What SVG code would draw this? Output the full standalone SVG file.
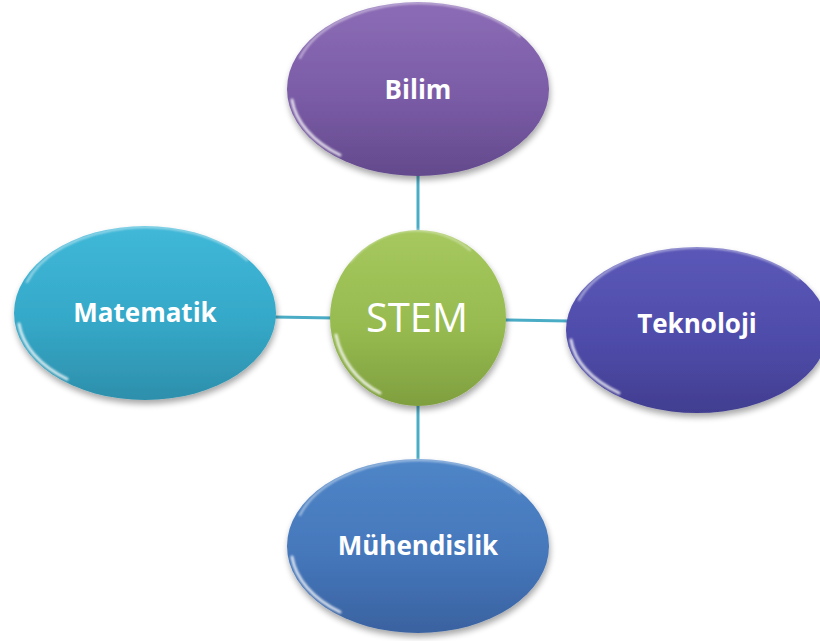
<svg xmlns="http://www.w3.org/2000/svg" width="820" height="641" viewBox="0 0 820 641">
  <style>
    .lbl { font-family: "Open Sans", "Liberation Sans", sans-serif; font-weight: 700; font-size: 26px; fill: #ffffff; text-anchor: middle; }
    .hub { font-family: "Open Sans", "Liberation Sans", sans-serif; font-weight: 400; font-size: 40px; fill: #ffffff; text-anchor: middle; }
    .conn { stroke: #4bacc6; stroke-width: 3; fill: none; }
    .rim { fill: none; stroke: #ffffff; stroke-linecap: round; }
  </style>
  <defs>
    <filter id="shadow" x="-20%" y="-20%" width="140%" height="150%">
      <feGaussianBlur in="SourceAlpha" stdDeviation="3"/>
      <feOffset dx="1" dy="4" result="b"/>
      <feComponentTransfer><feFuncA type="linear" slope="0.35"/></feComponentTransfer>
      <feMerge><feMergeNode/><feMergeNode in="SourceGraphic"/></feMerge>
    </filter>
    <filter id="soft" x="-10%" y="-10%" width="120%" height="120%">
      <feGaussianBlur stdDeviation="1.2"/>
    </filter>
    <linearGradient id="gPurple" x1="0" y1="0" x2="0" y2="1">
      <stop offset="0" stop-color="#8c6cb6"/>
      <stop offset="0.55" stop-color="#7a5ba6"/>
      <stop offset="1" stop-color="#634a8c"/>
    </linearGradient>
    <linearGradient id="gGreen" x1="0" y1="0" x2="0" y2="1">
      <stop offset="0" stop-color="#a6c85e"/>
      <stop offset="0.55" stop-color="#97bb50"/>
      <stop offset="1" stop-color="#7f9f3f"/>
    </linearGradient>
    <linearGradient id="gIndigo" x1="0" y1="0" x2="0" y2="1">
      <stop offset="0" stop-color="#5b58b8"/>
      <stop offset="0.55" stop-color="#4f4caa"/>
      <stop offset="1" stop-color="#413e90"/>
    </linearGradient>
    <linearGradient id="gCyan" x1="0" y1="0" x2="0" y2="1">
      <stop offset="0" stop-color="#40b8d8"/>
      <stop offset="0.55" stop-color="#35a8c8"/>
      <stop offset="1" stop-color="#2d8fab"/>
    </linearGradient>
    <linearGradient id="gBlue" x1="0" y1="0" x2="0" y2="1">
      <stop offset="0" stop-color="#4f86c8"/>
      <stop offset="0.55" stop-color="#4577bb"/>
      <stop offset="1" stop-color="#3a62a0"/>
    </linearGradient>
  </defs>

  <!-- connectors from the hub to each satellite -->
  <g id="connectors">
    <line class="conn" x1="418" y1="174" x2="418" y2="232"/>
    <line class="conn" x1="418" y1="405" x2="418" y2="462"/>
    <line class="conn" x1="274" y1="317" x2="334" y2="318"/>
    <line class="conn" x1="503" y1="320" x2="569" y2="321"/>
  </g>

  <g id="bilim">
    <ellipse cx="418" cy="89" rx="131" ry="87" fill="url(#gPurple)" filter="url(#shadow)"/>
    <path class="rim" d="M300 58 A125 80 0 0 1 520 36" stroke-width="2" opacity="0.55" filter="url(#soft)"/>
    <path class="rim" d="M292 100 A125 80 0 0 0 340 155" stroke-width="3" opacity="0.8" filter="url(#soft)"/>
    <text class="lbl" x="418" y="99">Bilim</text>
  </g>

  <g id="matematik">
    <ellipse cx="145" cy="313" rx="131" ry="87" fill="url(#gCyan)" filter="url(#shadow)"/>
    <path class="rim" d="M27 282 A125 80 0 0 1 247 260" stroke-width="2" opacity="0.55" filter="url(#soft)"/>
    <path class="rim" d="M19 324 A125 80 0 0 0 67 379" stroke-width="3" opacity="0.8" filter="url(#soft)"/>
    <text class="lbl" x="145" y="322">Matematik</text>
  </g>

  <g id="teknoloji">
    <ellipse cx="697" cy="330" rx="131" ry="83" fill="url(#gIndigo)" filter="url(#shadow)"/>
    <path class="rim" d="M579 300 A125 76 0 0 1 799 279" stroke-width="2" opacity="0.55" filter="url(#soft)"/>
    <path class="rim" d="M571 340 A125 76 0 0 0 619 393" stroke-width="3" opacity="0.8" filter="url(#soft)"/>
    <text class="lbl" x="697" y="333">Teknoloji</text>
  </g>

  <g id="muhendislik">
    <ellipse cx="418" cy="546" rx="131" ry="87" fill="url(#gBlue)" filter="url(#shadow)"/>
    <path class="rim" d="M300 515 A125 80 0 0 1 520 493" stroke-width="2" opacity="0.55" filter="url(#soft)"/>
    <path class="rim" d="M292 557 A125 80 0 0 0 340 612" stroke-width="3" opacity="0.8" filter="url(#soft)"/>
    <text class="lbl" x="418" y="555">Mühendislik</text>
  </g>

  <g id="stem">
    <circle cx="418" cy="318" r="88" fill="url(#gGreen)" filter="url(#shadow)"/>
    <path class="rim" d="M350 262 A84 84 0 0 1 470 250" stroke-width="2" opacity="0.5" filter="url(#soft)"/>
    <path class="rim" d="M336 335 A84 84 0 0 0 380 393" stroke-width="3" opacity="0.8" filter="url(#soft)"/>
    <text class="hub" x="417" y="332">STEM</text>
  </g>
</svg>
